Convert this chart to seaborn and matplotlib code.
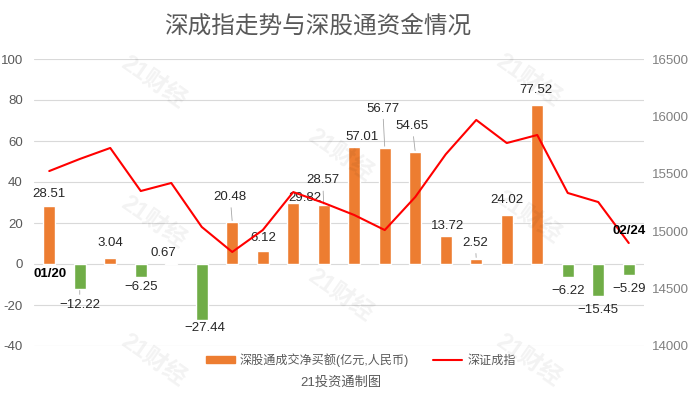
import numpy as np
import pandas as pd
import matplotlib
matplotlib.use('Agg')
import matplotlib.pyplot as plt
from matplotlib.patches import Patch
from matplotlib.lines import Line2D
import seaborn as sns

# trade dates (only first and last are labelled in the chart)
dates = ['01/20', '01/21', '01/22', '01/25', '01/26', '01/27', '01/28', '01/29',
         '02/01', '02/02', '02/03', '02/04', '02/05', '02/08', '02/09', '02/18',
         '02/19', '02/22', '02/23', '02/24']
# 深股通成交净买额 (亿元)
net_buy = [28.51, -12.22, 3.04, -6.25, 0.67, -27.44, 20.48, 6.12, 29.82, 28.57,
           57.01, 56.77, 54.65, 13.72, 2.52, 24.02, 77.52, -6.22, -15.45, -5.29]
# 深证成指
sz_index = [15524, 15629, 15725, 15350, 15420, 15037, 14819, 15010, 15341, 15246,
            15141, 15010, 15298, 15670, 15969, 15768, 15838, 15333, 15254, 14897]

# label placement tweaks (pixels) -- mimic the original label layout
label_dx = [0, 0, 0, 0, -8, 3, -2, 1, 12, -1, 8, -2, -3, 2, -1, 0, -1, 0, 0, 0]
label_dy = [12, -16, 15, -10, 10, -8, 25, 13, 5, 25, 10, 39, 26, 10, 16, 15, 15, -14, -14, -14]
leader = {1, 6, 9, 11, 12, 14}

ORANGE = '#ED7D31'
GREEN = '#70AD47'
RED = '#FF0000'

sns.set_style('white')
plt.rcParams['font.family'] = ['Liberation Sans', 'Noto Sans CJK SC', 'DejaVu Sans']
plt.rcParams['axes.unicode_minus'] = False

df = pd.DataFrame({'date': dates, 'net': net_buy, 'idx': sz_index})
df['pos'] = np.arange(len(df))
df['sign'] = np.where(df['net'] >= 0, 'pos', 'neg')

fig = plt.figure(figsize=(6.93, 3.99), dpi=100)
ax = fig.add_axes([34 / 693, 53 / 399, 610 / 693, 287 / 399])

sns.barplot(data=df, x='date', y='net', hue='sign', palette={'pos': ORANGE, 'neg': GREEN},
            dodge=False, width=0.4, legend=False, ax=ax, saturation=1)
ax.set_xlim(-0.5, len(df) - 0.5)
ax.set_ylim(-40, 100)
ax.set_yticks(range(-40, 101, 20))
ax.yaxis.grid(True, color='#d9d9d9', lw=0.8)
ax.set_axisbelow(True)
ax.set_xticks([])
ax.set_xlabel('')
ax.set_ylabel('')
ax.tick_params(axis='y', length=0, pad=8, labelsize=9.5, labelcolor='#595959')
for s in ax.spines.values():
    s.set_visible(False)

# data labels
for i, v in enumerate(net_buy):
    txt = f'{v:.2f}'.replace('-', '\u2212')
    arrow = dict(arrowstyle='-', color='#a6a6a6', lw=0.6, shrinkA=1, shrinkB=1) if i in leader else None
    ax.annotate(txt, xy=(i, v), xytext=(label_dx[i], label_dy[i]), textcoords='offset pixels',
                ha='center', va='center', fontsize=9.5, color='#262626', arrowprops=arrow)

# first date label sits just under the zero line
ax.annotate(dates[0], xy=(0, 0), xytext=(1, -10), textcoords='offset pixels',
            ha='center', va='center', fontsize=9.5, fontweight='bold', color='black')

ax2 = ax.twinx()
sns.lineplot(data=df, x='pos', y='idx', color=RED, lw=1.5, ax=ax2)
ax2.set_ylim(14000, 16500)
ax2.set_yticks(range(14000, 16501, 500))
ax2.set_xlim(-0.5, len(df) - 0.5)
ax2.set_ylabel('')
ax2.set_xlabel('')
ax2.tick_params(axis='y', length=0, pad=6, labelsize=9.5, labelcolor='#808080')
for s in ax2.spines.values():
    s.set_visible(False)

ax2.annotate(dates[-1], xy=(len(df) - 1, sz_index[-1]), xytext=(0, 12), textcoords='offset pixels',
             ha='center', va='center', fontsize=9.5, fontweight='bold', color='black')

# title / legend / source
fig.text(318 / 693, 1 - 26 / 399, '深成指走势与深股通资金情况', ha='center', va='center',
         fontsize=17, color='#595959')
handles = [Patch(color=ORANGE, label='深股通成交净买额(亿元,人民币)'),
           Line2D([0], [0], color=RED, lw=1.5, label='深证成指')]
fig.legend(handles=handles, loc='center', bbox_to_anchor=(361 / 693, 1 - 360 / 399), ncol=2,
           frameon=False, fontsize=8.7, handlelength=2.4, handleheight=0.55, handletextpad=0.4,
           columnspacing=2.0, labelcolor='#595959')
fig.text(341 / 693, 1 - 383 / 399, '21投资通制图', ha='center', va='center', fontsize=9.5,
         color='#595959')

# faint watermarks
for wx, wy in [(153, 82), (153, 222), (153, 360), (528, 80), (528, 217), (528, 360),
               (340, 155), (340, 295)]:
    fig.text(wx / 693, 1 - wy / 399, '21财经', ha='center', va='center', rotation=-35,
             fontsize=17, fontweight='bold', color='black', alpha=0.05)

fig.savefig('out.png', dpi=100)
